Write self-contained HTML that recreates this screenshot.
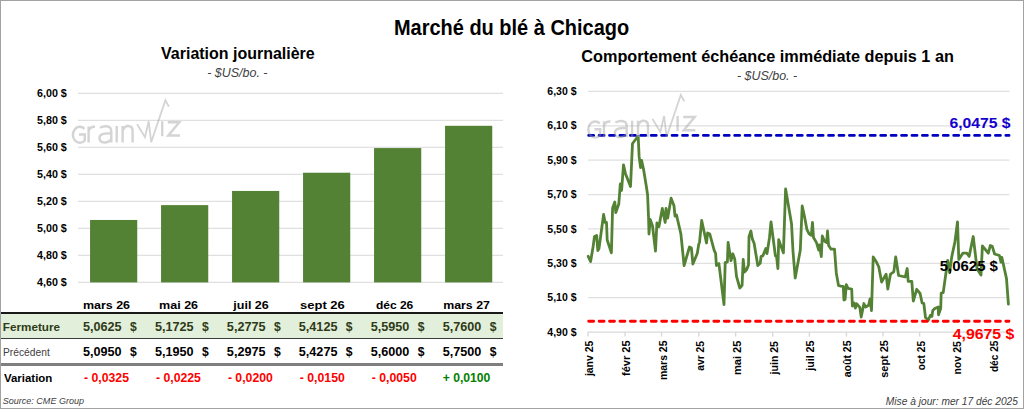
<!DOCTYPE html>
<html><head><meta charset="utf-8"><style>
html,body{margin:0;padding:0;background:#fff;width:1024px;height:409px;overflow:hidden}
svg{display:block}
text{font-family:"Liberation Sans", sans-serif}
</style></head><body>
<svg width="1024" height="409" viewBox="0 0 1024 409">
<rect x="0.5" y="0.5" width="1023" height="408" fill="#fff" stroke="#a2a2a2" stroke-width="1"/>
<line x1="78" y1="93.40" x2="503" y2="93.40" stroke="#e0e0e0" stroke-width="1.2"/>
<line x1="78" y1="120.40" x2="503" y2="120.40" stroke="#e0e0e0" stroke-width="1.2"/>
<line x1="78" y1="147.40" x2="503" y2="147.40" stroke="#e0e0e0" stroke-width="1.2"/>
<line x1="78" y1="174.40" x2="503" y2="174.40" stroke="#e0e0e0" stroke-width="1.2"/>
<line x1="78" y1="201.40" x2="503" y2="201.40" stroke="#e0e0e0" stroke-width="1.2"/>
<line x1="78" y1="228.40" x2="503" y2="228.40" stroke="#e0e0e0" stroke-width="1.2"/>
<line x1="78" y1="255.40" x2="503" y2="255.40" stroke="#e0e0e0" stroke-width="1.2"/>
<line x1="78" y1="282.40" x2="503" y2="282.40" stroke="#e0e0e0" stroke-width="1.2"/>
<rect x="90.05" y="219.96" width="47.2" height="62.44" fill="#548235"/>
<rect x="161.05" y="205.11" width="47.2" height="77.29" fill="#548235"/>
<rect x="232.05" y="190.94" width="47.2" height="91.46" fill="#548235"/>
<rect x="303.05" y="172.71" width="47.2" height="109.69" fill="#548235"/>
<rect x="374.05" y="148.07" width="47.2" height="134.33" fill="#548235"/>
<rect x="445.05" y="125.80" width="47.2" height="156.60" fill="#548235"/>
<line x1="588" y1="91.40" x2="1009.5" y2="91.40" stroke="#e0e0e0" stroke-width="1.2"/>
<line x1="588" y1="125.79" x2="1009.5" y2="125.79" stroke="#e0e0e0" stroke-width="1.2"/>
<line x1="588" y1="160.17" x2="1009.5" y2="160.17" stroke="#e0e0e0" stroke-width="1.2"/>
<line x1="588" y1="194.56" x2="1009.5" y2="194.56" stroke="#e0e0e0" stroke-width="1.2"/>
<line x1="588" y1="228.94" x2="1009.5" y2="228.94" stroke="#e0e0e0" stroke-width="1.2"/>
<line x1="588" y1="263.33" x2="1009.5" y2="263.33" stroke="#e0e0e0" stroke-width="1.2"/>
<line x1="588" y1="297.72" x2="1009.5" y2="297.72" stroke="#e0e0e0" stroke-width="1.2"/>
<line x1="588" y1="332.10" x2="1009.5" y2="332.10" stroke="#d9d9d9" stroke-width="1.4"/>
<line x1="588.00" y1="332.10" x2="588.00" y2="336.60" stroke="#d9d9d9" stroke-width="1.4"/>
<line x1="625.10" y1="332.10" x2="625.10" y2="336.60" stroke="#d9d9d9" stroke-width="1.4"/>
<line x1="661.60" y1="332.10" x2="661.60" y2="336.60" stroke="#d9d9d9" stroke-width="1.4"/>
<line x1="698.80" y1="332.10" x2="698.80" y2="336.60" stroke="#d9d9d9" stroke-width="1.4"/>
<line x1="735.60" y1="332.10" x2="735.60" y2="336.60" stroke="#d9d9d9" stroke-width="1.4"/>
<line x1="772.70" y1="332.10" x2="772.70" y2="336.60" stroke="#d9d9d9" stroke-width="1.4"/>
<line x1="809.40" y1="332.10" x2="809.40" y2="336.60" stroke="#d9d9d9" stroke-width="1.4"/>
<line x1="846.40" y1="332.10" x2="846.40" y2="336.60" stroke="#d9d9d9" stroke-width="1.4"/>
<line x1="883.00" y1="332.10" x2="883.00" y2="336.60" stroke="#d9d9d9" stroke-width="1.4"/>
<line x1="919.60" y1="332.10" x2="919.60" y2="336.60" stroke="#d9d9d9" stroke-width="1.4"/>
<line x1="956.10" y1="332.10" x2="956.10" y2="336.60" stroke="#d9d9d9" stroke-width="1.4"/>
<line x1="993.40" y1="332.10" x2="993.40" y2="336.60" stroke="#d9d9d9" stroke-width="1.4"/>
<g transform="translate(0.00 0.00)" opacity="0.42" fill="none" stroke="#9a9a9a" stroke-width="2.4" stroke-linecap="butt" stroke-linejoin="miter"><path d="M84.5 128.8 A7 8 0 1 0 84.8 140.5 L84.8 134.5 L79 134.5"/><path d="M88.6 142.5 V126.5 M88.6 131 Q90 126.5 95 126.8"/><path d="M100 127.8 Q105.5 125 110 127.5 Q111.3 129 111.3 132 V142.5 M111.3 133.5 Q99.5 132.5 99.5 138 Q99.5 142.5 104.5 142.5 Q109 142.5 111.3 139"/><path d="M116.7 126 V142.5"/><path d="M122.6 142.5 V126 M122.6 131 Q124.4 126 128 126 Q132.6 126 132.6 131 V142.5"/><path d="M137.1 124.3 L145 137.2 L148.7 121.3 L151.2 142.1 L165.4 100.2 L168.9 106.6" stroke-width="1.8"/><path d="M162.2 121.3 V136.2"/><path d="M167.8 122.3 H179.3 L168.3 135.5 H180"/></g>
<rect x="1" y="314" width="502" height="24" fill="#e2efda"/>
<rect x="1" y="312" width="502" height="2" fill="#1a1a1a"/>
<rect x="1" y="338" width="502" height="1" fill="#3c3c3c"/>
<rect x="1" y="363" width="502" height="3" fill="#7f7f7f"/>
<polyline points="588.2,256.3 590.6,261.5 593.1,246.7 594.5,236.5 596.7,235.5 597.8,250.5 599.0,248.5 603.6,214.5 605.1,222.5 606.5,222.5 607.2,240.0 611.4,252.8 612.6,208.0 614.8,202.0 615.8,212.5 618.8,204.0 620.3,184.0 621.6,190.5 623.5,164.8 625.4,173.4 630.5,186.5 632.5,143.5 638.2,136.2 639.1,156.4 640.6,167.5 641.6,160.5 643.5,169.1 646.6,188.0 647.6,195.0 648.6,219.0 649.0,234.0 650.2,219.5 652.5,226.0 655.5,251.0 656.9,223.0 658.9,226.8 662.3,208.5 665.2,222.5 666.0,208.5 667.7,218.0 671.1,198.2 674.0,205.8 675.0,216.0 676.5,215.0 680.9,234.0 684.1,265.5 689.5,247.0 691.4,248.0 692.9,264.0 697.3,253.3 698.8,244.0 699.5,242.5 701.7,220.5 706.5,243.0 707.6,233.0 709.8,234.0 714.2,250.4 715.6,253.3 716.4,265.5 718.9,263.6 724.0,304.5 725.2,262.6 727.4,261.9 728.1,242.5 731.0,260.7 732.8,253.8 734.7,258.9 736.5,276.4 739.8,288.0 742.1,285.3 743.2,259.5 744.5,272.0 746.5,269.9 748.5,265.0 749.0,236.7 750.9,231.0 752.3,238.9 754.1,243.3 757.8,265.5 760.2,263.2 761.1,256.3 762.9,255.8 765.8,248.5 767.0,253.6 769.5,237.5 771.0,221.8 775.4,255.8 776.5,255.8 777.9,268.5 778.7,239.7 783.4,252.9 785.6,189.0 791.5,223.4 793.0,251.4 795.2,278.0 800.3,250.0 802.2,206.0 804.7,217.6 806.9,229.4 809.1,233.8 811.3,235.3 812.5,222.5 813.5,237.5 816.5,242.6 818.7,250.0 819.4,244.8 821.3,256.5 822.3,236.0 824.5,241.1 826.7,242.6 827.5,231.0 828.6,245.5 831.1,249.2 834.5,249.2 836.3,272.9 838.5,285.4 840.7,286.1 843.3,286.4 843.9,300.0 845.1,299.5 846.3,284.6 848.0,288.3 851.7,289.1 852.4,306.0 854.2,303.0 855.4,308.2 856.8,303.8 859.8,307.4 861.2,317.0 863.9,303.5 865.6,307.0 868.6,305.2 870.0,299.0 871.5,310.5 873.2,257.0 876.6,262.3 878.8,267.0 881.6,282.0 886.1,274.1 887.8,289.0 890.5,274.1 893.8,271.9 895.7,257.0 898.6,275.5 905.2,277.0 907.2,268.5 908.2,281.4 911.8,281.4 913.3,301.0 916.7,289.3 920.1,293.5 922.1,303.0 923.8,303.4 925.5,317.5 928.4,320.0 930.4,315.3 931.9,316.5 932.8,310.4 934.8,308.5 938.2,307.0 938.5,314.8 940.7,308.5 941.2,293.0 943.2,292.6 947.7,260.5 949.6,272.5 951.7,257.1 954.9,242.0 957.5,222.0 958.8,259.5 962.8,253.2 966.8,253.2 969.2,256.3 973.2,236.5 977.1,269.0 981.0,275.0 982.4,246.0 988.3,253.2 990.3,245.5 992.2,246.2 994.6,254.0 999.4,255.5 1001.0,262.2 1001.8,257.3 1006.5,278.6 1008.4,304.2" fill="none" stroke="#548235" stroke-width="2.8" stroke-linejoin="round" stroke-linecap="round"/>
<line x1="588.7" y1="135.40" x2="1009" y2="135.40" stroke="#0000c0" stroke-width="2.9" stroke-linecap="round" stroke-dasharray="4.9 5.53"/>
<line x1="588.7" y1="321.20" x2="1009" y2="321.20" stroke="#ff0000" stroke-width="2.9" stroke-linecap="round" stroke-dasharray="4.9 5.53"/>
<g transform="translate(515.40 -5.30)" opacity="0.42" fill="none" stroke="#9a9a9a" stroke-width="2.4" stroke-linecap="butt" stroke-linejoin="miter"><path d="M84.5 128.8 A7 8 0 1 0 84.8 140.5 L84.8 134.5 L79 134.5"/><path d="M88.6 142.5 V126.5 M88.6 131 Q90 126.5 95 126.8"/><path d="M100 127.8 Q105.5 125 110 127.5 Q111.3 129 111.3 132 V142.5 M111.3 133.5 Q99.5 132.5 99.5 138 Q99.5 142.5 104.5 142.5 Q109 142.5 111.3 139"/><path d="M116.7 126 V142.5"/><path d="M122.6 142.5 V126 M122.6 131 Q124.4 126 128 126 Q132.6 126 132.6 131 V142.5"/><path d="M137.1 124.3 L145 137.2 L148.7 121.3 L151.2 142.1 L165.4 100.2 L168.9 106.6" stroke-width="1.8"/><path d="M162.2 121.3 V136.2"/><path d="M167.8 122.3 H179.3 L168.3 135.5 H180"/></g>
<text x="393.98" y="34.50" font-size="21.6" font-weight="bold" font-style="normal" fill="#000" textLength="235.19" lengthAdjust="spacingAndGlyphs">Marché du blé à Chicago</text>
<text x="161.10" y="59.10" font-size="16" font-weight="bold" font-style="normal" fill="#000" textLength="153.53" lengthAdjust="spacingAndGlyphs">Variation journalière</text>
<text x="207.26" y="77.20" font-size="12" font-weight="normal" font-style="italic" fill="#404040" textLength="60.27" lengthAdjust="spacingAndGlyphs">- $US/bo. -</text>
<text x="581.39" y="61.70" font-size="16" font-weight="bold" font-style="normal" fill="#000" textLength="372.44" lengthAdjust="spacingAndGlyphs">Comportement échéance immédiate depuis 1 an</text>
<text x="736.96" y="79.50" font-size="12" font-weight="normal" font-style="italic" fill="#404040" textLength="60.17" lengthAdjust="spacingAndGlyphs">- $US/bo. -</text>
<text x="37.00" y="96.90" font-size="11" font-weight="bold" font-style="normal" fill="#000" textLength="29.80" lengthAdjust="spacingAndGlyphs">6,00 $</text>
<text x="37.00" y="123.90" font-size="11" font-weight="bold" font-style="normal" fill="#000" textLength="29.80" lengthAdjust="spacingAndGlyphs">5,80 $</text>
<text x="37.00" y="150.90" font-size="11" font-weight="bold" font-style="normal" fill="#000" textLength="29.80" lengthAdjust="spacingAndGlyphs">5,60 $</text>
<text x="37.00" y="177.90" font-size="11" font-weight="bold" font-style="normal" fill="#000" textLength="29.80" lengthAdjust="spacingAndGlyphs">5,40 $</text>
<text x="37.00" y="204.90" font-size="11" font-weight="bold" font-style="normal" fill="#000" textLength="29.80" lengthAdjust="spacingAndGlyphs">5,20 $</text>
<text x="37.00" y="231.90" font-size="11" font-weight="bold" font-style="normal" fill="#000" textLength="29.80" lengthAdjust="spacingAndGlyphs">5,00 $</text>
<text x="37.00" y="258.90" font-size="11" font-weight="bold" font-style="normal" fill="#000" textLength="29.80" lengthAdjust="spacingAndGlyphs">4,80 $</text>
<text x="37.00" y="285.90" font-size="11" font-weight="bold" font-style="normal" fill="#000" textLength="29.80" lengthAdjust="spacingAndGlyphs">4,60 $</text>
<text x="547.30" y="95.00" font-size="11" font-weight="bold" font-style="normal" fill="#000" textLength="29.21" lengthAdjust="spacingAndGlyphs">6,30 $</text>
<text x="547.30" y="129.39" font-size="11" font-weight="bold" font-style="normal" fill="#000" textLength="29.21" lengthAdjust="spacingAndGlyphs">6,10 $</text>
<text x="547.30" y="163.77" font-size="11" font-weight="bold" font-style="normal" fill="#000" textLength="29.21" lengthAdjust="spacingAndGlyphs">5,90 $</text>
<text x="547.30" y="198.16" font-size="11" font-weight="bold" font-style="normal" fill="#000" textLength="29.21" lengthAdjust="spacingAndGlyphs">5,70 $</text>
<text x="547.30" y="232.54" font-size="11" font-weight="bold" font-style="normal" fill="#000" textLength="29.21" lengthAdjust="spacingAndGlyphs">5,50 $</text>
<text x="547.30" y="266.93" font-size="11" font-weight="bold" font-style="normal" fill="#000" textLength="29.21" lengthAdjust="spacingAndGlyphs">5,30 $</text>
<text x="547.30" y="301.32" font-size="11" font-weight="bold" font-style="normal" fill="#000" textLength="29.21" lengthAdjust="spacingAndGlyphs">5,10 $</text>
<text x="547.30" y="335.70" font-size="11" font-weight="bold" font-style="normal" fill="#000" textLength="29.21" lengthAdjust="spacingAndGlyphs">4,90 $</text>
<text x="82.92" y="308.60" font-size="11.5" font-weight="bold" font-style="normal" fill="#000" textLength="47.11" lengthAdjust="spacingAndGlyphs">mars 26</text>
<text x="159.11" y="308.60" font-size="11.5" font-weight="bold" font-style="normal" fill="#000" textLength="38.98" lengthAdjust="spacingAndGlyphs">mai 26</text>
<text x="233.30" y="308.60" font-size="11.5" font-weight="bold" font-style="normal" fill="#000" textLength="35.46" lengthAdjust="spacingAndGlyphs">juil 26</text>
<text x="300.07" y="308.60" font-size="11.5" font-weight="bold" font-style="normal" fill="#000" textLength="44.75" lengthAdjust="spacingAndGlyphs">sept 26</text>
<text x="375.90" y="308.60" font-size="11.5" font-weight="bold" font-style="normal" fill="#000" textLength="37.40" lengthAdjust="spacingAndGlyphs">déc 26</text>
<text x="443.23" y="308.60" font-size="11.5" font-weight="bold" font-style="normal" fill="#000" textLength="46.69" lengthAdjust="spacingAndGlyphs">mars 27</text>
<text x="2.89" y="330.60" font-size="10.5" font-weight="bold" font-style="normal" fill="#2e3a18" textLength="57.11" lengthAdjust="spacingAndGlyphs">Fermeture</text>
<text x="3.02" y="356.30" font-size="10.5" font-weight="normal" font-style="normal" fill="#404040" textLength="46.75" lengthAdjust="spacingAndGlyphs">Précédent</text>
<text x="4.00" y="382.00" font-size="10.5" font-weight="bold" font-style="normal" fill="#000" textLength="48.29" lengthAdjust="spacingAndGlyphs">Variation</text>
<text x="82.99" y="330.70" font-size="12.5" font-weight="bold" font-style="normal" fill="#2e3a18" textLength="38.65" lengthAdjust="spacingAndGlyphs">5,0625</text>
<text x="130.00" y="330.70" font-size="12.5" font-weight="bold" font-style="normal" fill="#2e3a18" textLength="6.75" lengthAdjust="spacingAndGlyphs">$</text>
<text x="82.99" y="356.20" font-size="12.5" font-weight="bold" font-style="normal" fill="#000" textLength="38.65" lengthAdjust="spacingAndGlyphs">5,0950</text>
<text x="130.00" y="356.20" font-size="12.5" font-weight="bold" font-style="normal" fill="#000" textLength="6.75" lengthAdjust="spacingAndGlyphs">$</text>
<text x="154.93" y="330.70" font-size="12.5" font-weight="bold" font-style="normal" fill="#2e3a18" textLength="38.65" lengthAdjust="spacingAndGlyphs">5,1725</text>
<text x="201.94" y="330.70" font-size="12.5" font-weight="bold" font-style="normal" fill="#2e3a18" textLength="6.75" lengthAdjust="spacingAndGlyphs">$</text>
<text x="154.93" y="356.20" font-size="12.5" font-weight="bold" font-style="normal" fill="#000" textLength="38.65" lengthAdjust="spacingAndGlyphs">5,1950</text>
<text x="201.94" y="356.20" font-size="12.5" font-weight="bold" font-style="normal" fill="#000" textLength="6.75" lengthAdjust="spacingAndGlyphs">$</text>
<text x="226.87" y="330.70" font-size="12.5" font-weight="bold" font-style="normal" fill="#2e3a18" textLength="38.65" lengthAdjust="spacingAndGlyphs">5,2775</text>
<text x="273.88" y="330.70" font-size="12.5" font-weight="bold" font-style="normal" fill="#2e3a18" textLength="6.75" lengthAdjust="spacingAndGlyphs">$</text>
<text x="226.87" y="356.20" font-size="12.5" font-weight="bold" font-style="normal" fill="#000" textLength="38.65" lengthAdjust="spacingAndGlyphs">5,2975</text>
<text x="273.88" y="356.20" font-size="12.5" font-weight="bold" font-style="normal" fill="#000" textLength="6.75" lengthAdjust="spacingAndGlyphs">$</text>
<text x="298.81" y="330.70" font-size="12.5" font-weight="bold" font-style="normal" fill="#2e3a18" textLength="38.65" lengthAdjust="spacingAndGlyphs">5,4125</text>
<text x="345.82" y="330.70" font-size="12.5" font-weight="bold" font-style="normal" fill="#2e3a18" textLength="6.75" lengthAdjust="spacingAndGlyphs">$</text>
<text x="298.81" y="356.20" font-size="12.5" font-weight="bold" font-style="normal" fill="#000" textLength="38.65" lengthAdjust="spacingAndGlyphs">5,4275</text>
<text x="345.82" y="356.20" font-size="12.5" font-weight="bold" font-style="normal" fill="#000" textLength="6.75" lengthAdjust="spacingAndGlyphs">$</text>
<text x="370.75" y="330.70" font-size="12.5" font-weight="bold" font-style="normal" fill="#2e3a18" textLength="38.65" lengthAdjust="spacingAndGlyphs">5,5950</text>
<text x="417.76" y="330.70" font-size="12.5" font-weight="bold" font-style="normal" fill="#2e3a18" textLength="6.75" lengthAdjust="spacingAndGlyphs">$</text>
<text x="370.75" y="356.20" font-size="12.5" font-weight="bold" font-style="normal" fill="#000" textLength="38.65" lengthAdjust="spacingAndGlyphs">5,6000</text>
<text x="417.76" y="356.20" font-size="12.5" font-weight="bold" font-style="normal" fill="#000" textLength="6.75" lengthAdjust="spacingAndGlyphs">$</text>
<text x="442.69" y="330.70" font-size="12.5" font-weight="bold" font-style="normal" fill="#2e3a18" textLength="38.65" lengthAdjust="spacingAndGlyphs">5,7600</text>
<text x="489.70" y="330.70" font-size="12.5" font-weight="bold" font-style="normal" fill="#2e3a18" textLength="6.75" lengthAdjust="spacingAndGlyphs">$</text>
<text x="442.69" y="356.20" font-size="12.5" font-weight="bold" font-style="normal" fill="#000" textLength="38.65" lengthAdjust="spacingAndGlyphs">5,7500</text>
<text x="489.70" y="356.20" font-size="12.5" font-weight="bold" font-style="normal" fill="#000" textLength="6.75" lengthAdjust="spacingAndGlyphs">$</text>
<text x="84.00" y="382.30" font-size="12.5" font-weight="bold" font-style="normal" fill="#ff0000" textLength="44.98" lengthAdjust="spacingAndGlyphs">- 0,0325</text>
<text x="155.94" y="382.30" font-size="12.5" font-weight="bold" font-style="normal" fill="#ff0000" textLength="44.98" lengthAdjust="spacingAndGlyphs">- 0,0225</text>
<text x="227.88" y="382.30" font-size="12.5" font-weight="bold" font-style="normal" fill="#ff0000" textLength="44.98" lengthAdjust="spacingAndGlyphs">- 0,0200</text>
<text x="299.82" y="382.30" font-size="12.5" font-weight="bold" font-style="normal" fill="#ff0000" textLength="44.98" lengthAdjust="spacingAndGlyphs">- 0,0150</text>
<text x="371.76" y="382.30" font-size="12.5" font-weight="bold" font-style="normal" fill="#ff0000" textLength="44.98" lengthAdjust="spacingAndGlyphs">- 0,0050</text>
<text x="442.70" y="382.30" font-size="12.5" font-weight="bold" font-style="normal" fill="#008000" textLength="47.62" lengthAdjust="spacingAndGlyphs">+ 0,0100</text>
<text transform="translate(593.00 376.10) rotate(-90)" x="0" y="0" font-size="10.6" font-weight="bold" font-style="normal" fill="#000" textLength="35.44" lengthAdjust="spacingAndGlyphs">janv 25</text>
<text transform="translate(630.10 376.00) rotate(-90)" x="0" y="0" font-size="10.6" font-weight="bold" font-style="normal" fill="#000" textLength="35.58" lengthAdjust="spacingAndGlyphs">févr 25</text>
<text transform="translate(666.60 379.98) rotate(-90)" x="0" y="0" font-size="10.6" font-weight="bold" font-style="normal" fill="#000" textLength="39.45" lengthAdjust="spacingAndGlyphs">mars 25</text>
<text transform="translate(703.80 370.80) rotate(-90)" x="0" y="0" font-size="10.6" font-weight="bold" font-style="normal" fill="#000" textLength="29.85" lengthAdjust="spacingAndGlyphs">avr 25</text>
<text transform="translate(740.60 375.04) rotate(-90)" x="0" y="0" font-size="10.6" font-weight="bold" font-style="normal" fill="#000" textLength="34.43" lengthAdjust="spacingAndGlyphs">mai 25</text>
<text transform="translate(777.70 374.40) rotate(-90)" x="0" y="0" font-size="10.6" font-weight="bold" font-style="normal" fill="#000" textLength="33.37" lengthAdjust="spacingAndGlyphs">juin 25</text>
<text transform="translate(814.40 370.80) rotate(-90)" x="0" y="0" font-size="10.6" font-weight="bold" font-style="normal" fill="#000" textLength="30.23" lengthAdjust="spacingAndGlyphs">juil 25</text>
<text transform="translate(851.40 377.30) rotate(-90)" x="0" y="0" font-size="10.6" font-weight="bold" font-style="normal" fill="#000" textLength="36.79" lengthAdjust="spacingAndGlyphs">août 25</text>
<text transform="translate(888.00 377.73) rotate(-90)" x="0" y="0" font-size="10.6" font-weight="bold" font-style="normal" fill="#000" textLength="37.66" lengthAdjust="spacingAndGlyphs">sept 25</text>
<text transform="translate(924.60 370.20) rotate(-90)" x="0" y="0" font-size="10.6" font-weight="bold" font-style="normal" fill="#000" textLength="29.24" lengthAdjust="spacingAndGlyphs">oct 25</text>
<text transform="translate(961.10 374.60) rotate(-90)" x="0" y="0" font-size="10.6" font-weight="bold" font-style="normal" fill="#000" textLength="33.56" lengthAdjust="spacingAndGlyphs">nov 25</text>
<text transform="translate(998.40 372.10) rotate(-90)" x="0" y="0" font-size="10.6" font-weight="bold" font-style="normal" fill="#000" textLength="31.49" lengthAdjust="spacingAndGlyphs">déc 25</text>
<text x="949.40" y="128.00" font-size="15.5" font-weight="bold" font-style="normal" fill="#1400cc" textLength="61.15" lengthAdjust="spacingAndGlyphs">6,0475 $</text>
<text x="952.70" y="338.90" font-size="15" font-weight="bold" font-style="normal" fill="#ff0000" textLength="61.71" lengthAdjust="spacingAndGlyphs">4,9675 $</text>
<text x="939.81" y="270.90" font-size="15" font-weight="bold" font-style="normal" fill="#000" textLength="58.08" lengthAdjust="spacingAndGlyphs">5,0625 $</text>
<text x="2.78" y="404.30" font-size="9.8" font-weight="normal" font-style="italic" fill="#404040" textLength="81.22" lengthAdjust="spacingAndGlyphs">Source: CME Group</text>
<text x="885.80" y="404.50" font-size="10.3" font-weight="normal" font-style="italic" fill="#404040" textLength="132.17" lengthAdjust="spacingAndGlyphs">Mise à jour: mer 17 déc 2025</text>
</svg>
</body></html>
